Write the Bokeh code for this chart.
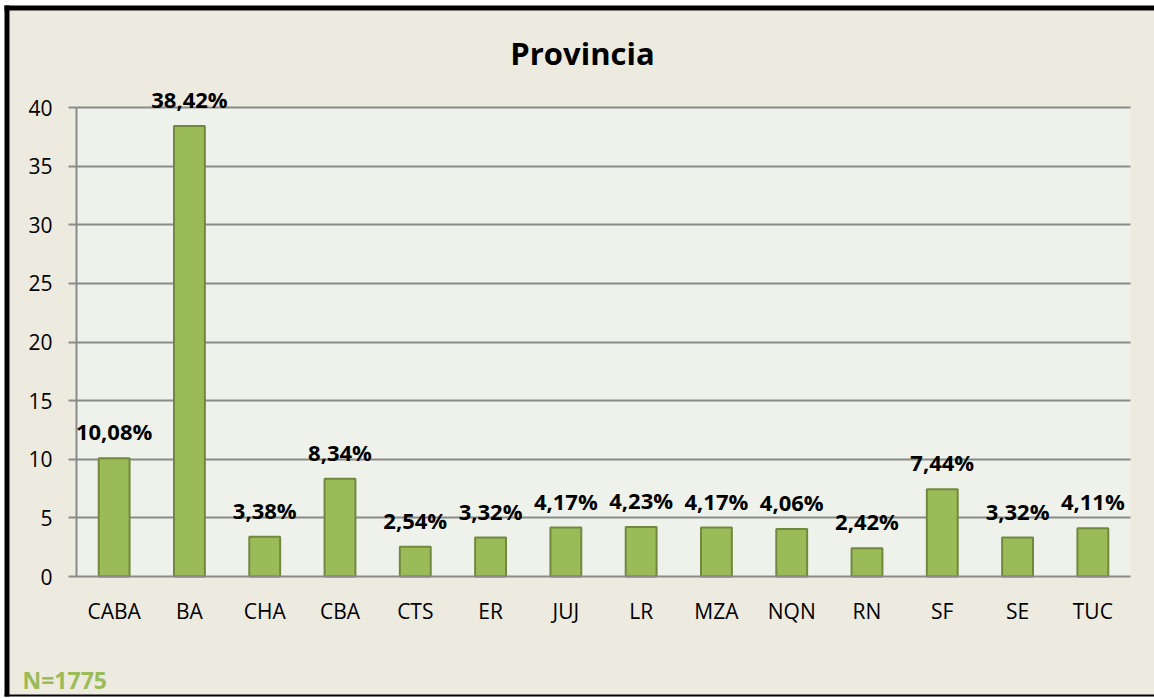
from bokeh.plotting import figure
from bokeh.models import (Range1d, ColumnDataSource, LabelSet, FixedTicker,
                          BoxAnnotation, LinearAxis, Grid)
from bokeh.core.properties import value
from bokeh.embed import file_html
from bokeh.resources import INLINE

categories = ["CABA", "BA", "CHA", "CBA", "CTS", "ER", "JUJ", "LR", "MZA", "NQN", "RN", "SF", "SE", "TUC"]
values = [10.08, 38.42, 3.38, 8.34, 2.54, 3.32, 4.17, 4.23, 4.17, 4.06, 2.42, 7.44, 3.32, 4.11]
labels = [("%.2f" % v).replace(".", ",") + "%" for v in values]
y_ticks = [0, 5, 10, 15, 20, 25, 30, 35, 40]
title_text = "Provincia"
note_text = "N=1775"

FONT = "Open Sans"
BG = "#EDEAE0"
PLOT_BG = "#EFF2EA"
GRID = "#8A8A8A"
GREEN = "#9BBB59"

n = len(categories)
xpos = [i + 0.5 for i in range(n)]

# canvas geometry (pixels) -> data ranges so that the plot box sits where the original does
W, H = 1154, 698
PLOT_L, PLOT_R = 76, 1130              # page x of plot box
PLOT_T, PLOT_B = 107, 576              # page y of 40 and 0
px_x = (PLOT_R - PLOT_L) / n
px_y = (PLOT_B - PLOT_T) / 40.0


def dx(px):
    return (px - PLOT_L) / px_x


def dy(py):
    return (PLOT_B - py) / px_y


x0, x1 = dx(0), dx(W)
y1, y0 = dy(0), dy(H)

src = ColumnDataSource(dict(x=xpos, cat=categories, val=values, lbl=labels))

p = figure(x_range=Range1d(x0, x1), y_range=Range1d(y0, y1), width=W, height=H,
           output_backend="svg", toolbar_location=None,
           x_axis_location=None, y_axis_location=None, min_border=0)
p.background_fill_color = "#FFFFFF"
p.border_fill_color = "#FFFFFF"
p.outline_line_color = None
p.xgrid.visible = False
p.ygrid.visible = False

# chart background, plot area and black frame
p.add_layout(BoxAnnotation(left=dx(9), right=x1, top=dy(10), bottom=dy(694),
                           fill_color=BG, fill_alpha=1, line_color=None, level="image"))
p.add_layout(BoxAnnotation(left=0, right=n, bottom=0, top=40, fill_color=PLOT_BG,
                           fill_alpha=1, line_color=None, level="image"))
for l, r, t, b in [(4, 9, 5, 696), (4, W, 5, 10), (4, W, 694, 696)]:
    p.add_layout(BoxAnnotation(left=dx(l), right=dx(r), top=dy(t), bottom=dy(b),
                               fill_color="#000000", fill_alpha=1, line_color=None,
                               level="overlay"))

# axes at fixed positions
yaxis = LinearAxis(fixed_location=0, bounds=(0, 40), ticker=FixedTicker(ticks=y_ticks))
yaxis.axis_line_color = GRID
yaxis.axis_line_width = 2
yaxis.major_tick_line_color = GRID
yaxis.major_tick_line_width = 2
yaxis.major_tick_out = 8
yaxis.major_tick_in = 0
yaxis.minor_tick_line_color = None
yaxis.major_label_text_font = FONT
yaxis.major_label_text_font_size = "21px"
yaxis.major_label_text_color = "#000000"
yaxis.major_label_standoff = 16
p.add_layout(yaxis, "left")

xaxis = LinearAxis(fixed_location=0, bounds=(0, n), ticker=FixedTicker(ticks=xpos),
                   major_label_overrides={x: c for x, c in zip(xpos, categories)})
xaxis.axis_line_color = GRID
xaxis.axis_line_width = 2
xaxis.major_tick_line_color = None
xaxis.minor_tick_line_color = None
xaxis.major_label_text_font = FONT
xaxis.major_label_text_font_size = "21px"
xaxis.major_label_text_color = "#000000"
xaxis.major_label_standoff = 14
p.add_layout(xaxis, "below")

p.add_layout(Grid(dimension=1, ticker=FixedTicker(ticks=y_ticks[1:]), cross_bounds=(0, n),
                  grid_line_color=GRID, grid_line_width=2, level="underlay"))

p.vbar(x="x", top="val", width=0.41, source=src,
       fill_color=GREEN, line_color="#71893F", line_width=2)

p.add_layout(LabelSet(x="x", y="val", text="lbl", source=src, y_offset=18,
                      text_align="center", text_baseline="alphabetic",
                      text_font=value(FONT), text_font_style="bold", text_font_size="22px",
                      text_color="#000000"))

# title and note
title_src = ColumnDataSource(dict(x=[dx(582)], y=[dy(64)], t=[title_text]))
p.add_layout(LabelSet(x="x", y="y", text="t", source=title_src,
                      text_align="center", text_baseline="alphabetic", text_font=value(FONT),
                      text_font_style="bold", text_font_size="31px", text_color="#000000"))
note_src = ColumnDataSource(dict(x=[dx(22)], y=[dy(688)], t=[note_text]))
p.add_layout(LabelSet(x="x", y="y", text="t", source=note_src,
                      text_align="left", text_baseline="alphabetic", text_font=value(FONT),
                      text_font_style="bold", text_font_size="23px", text_color=GREEN))

open("out.html", "w").write(file_html(p, INLINE))
